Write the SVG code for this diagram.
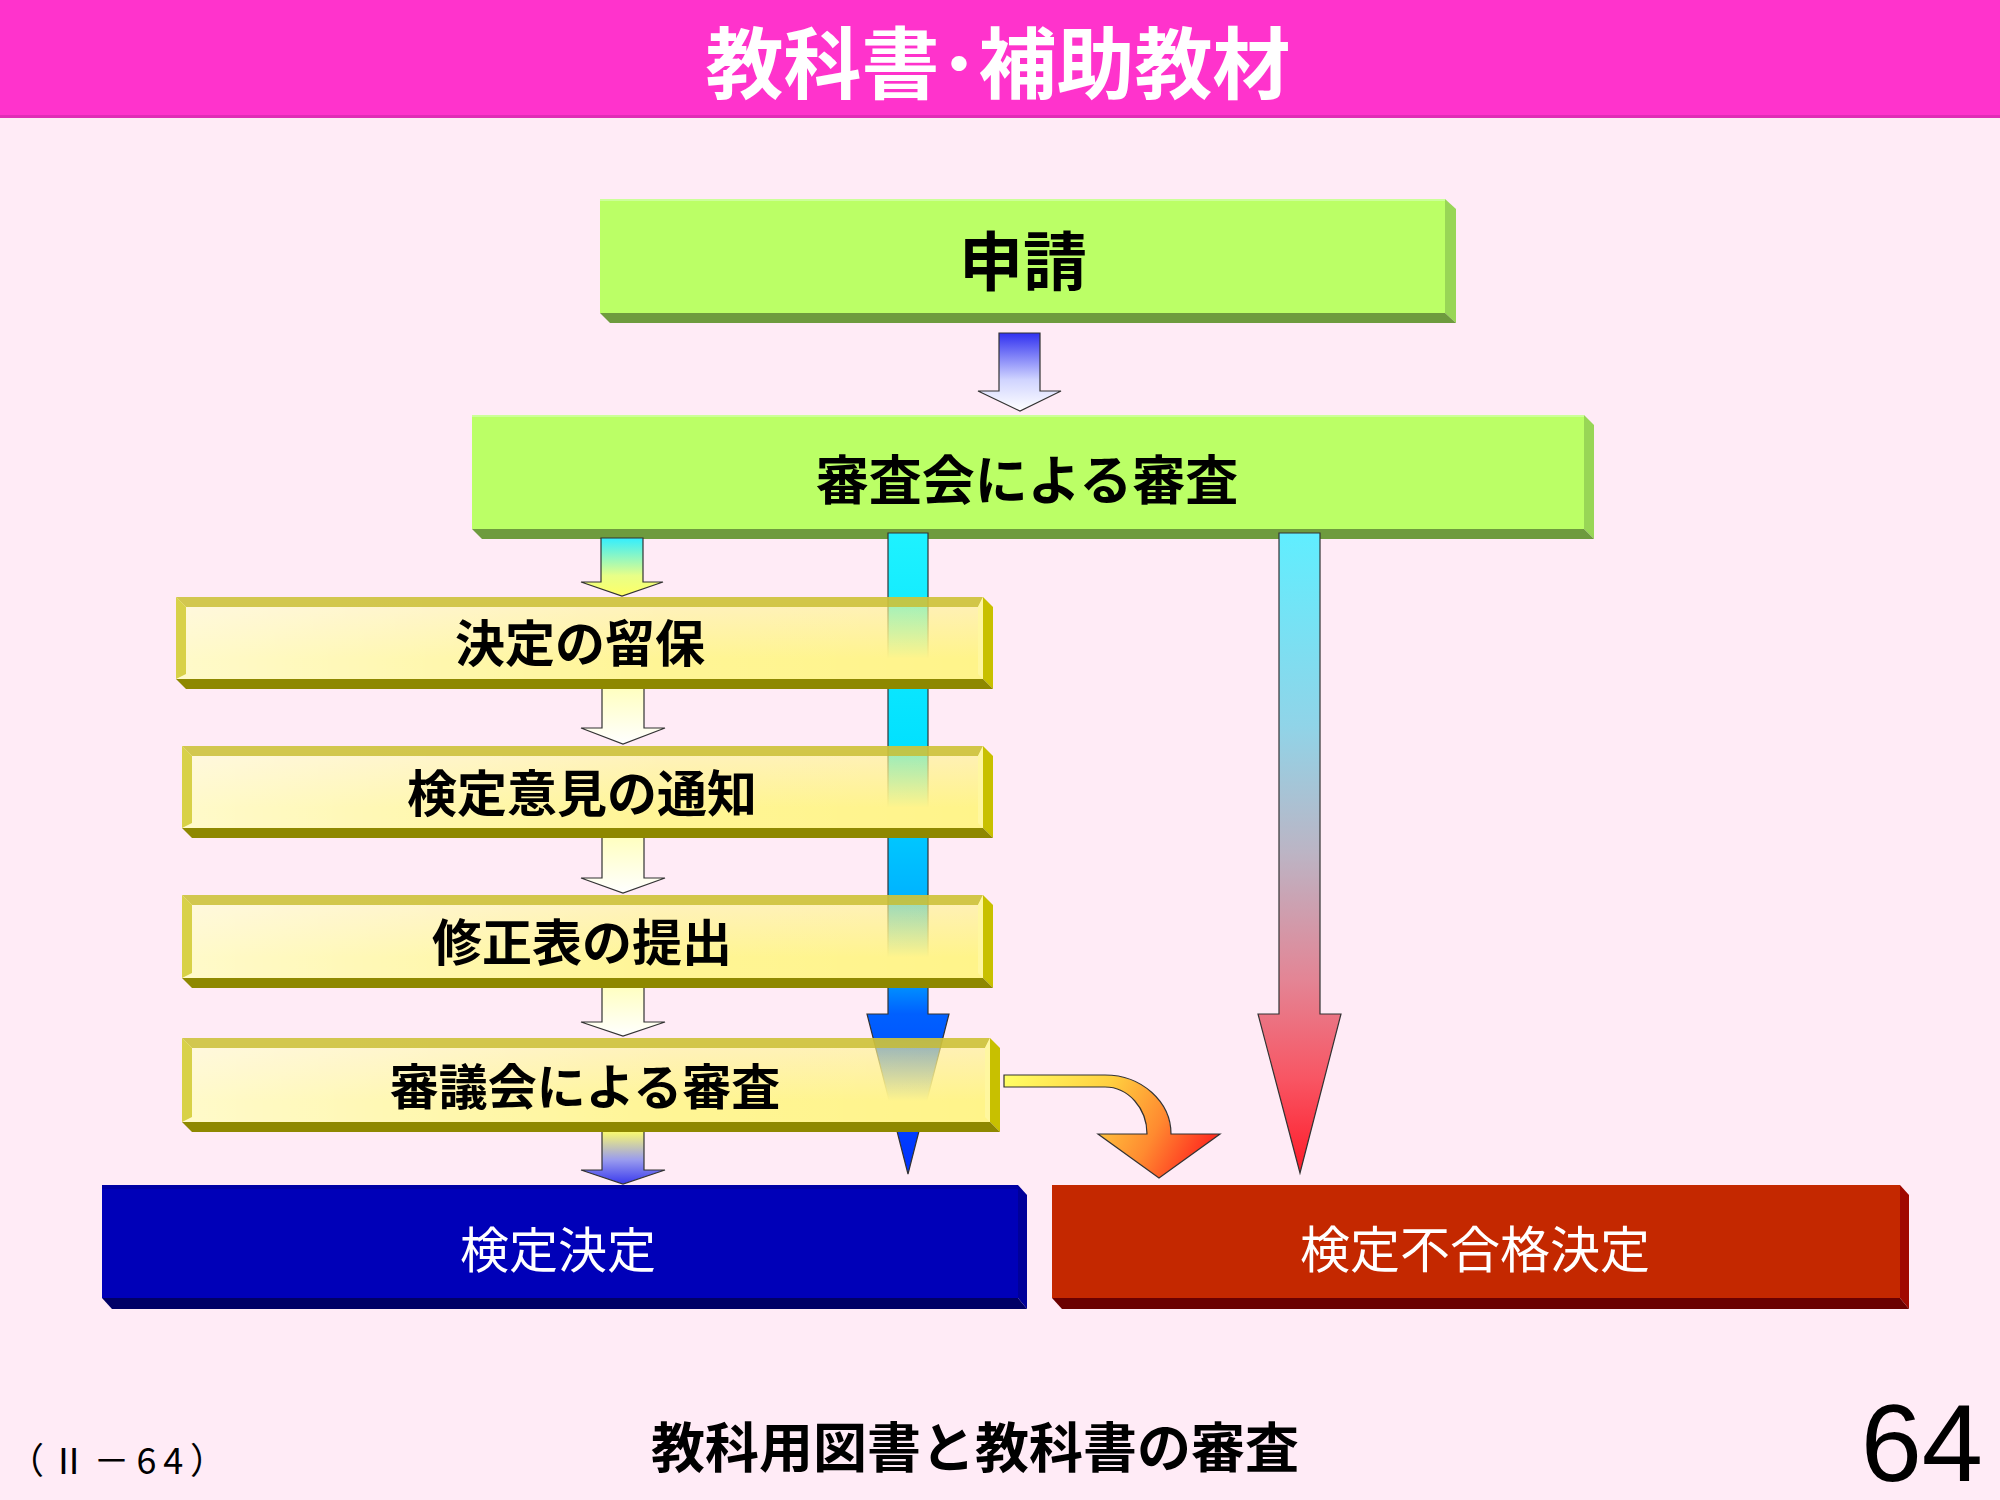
<svg xmlns="http://www.w3.org/2000/svg" width="2000" height="1500" viewBox="0 0 2000 1500">
<style>
.jp{font-family:"Noto Sans CJK JP","Noto Sans CJK SC",sans-serif;}
.lbl{font-weight:700;fill:#000;text-anchor:middle;dominant-baseline:central;}
.wlbl{font-weight:400;fill:#fff;text-anchor:middle;dominant-baseline:central;}
.arr{stroke:#333;stroke-width:1.2;stroke-linejoin:miter;}
.gface{fill:#BBFF66;}
.gright{fill:#98D656;}
.gbot{fill:#6E9B3E;}
.yright{fill:#C8C000;}
.ybot{fill:#8E8800;}
.ytop{fill:#C8BC30;fill-opacity:0.82;}
.yleft{fill:#D4CC38;fill-opacity:0.9;}
.yrin{fill:#FFF7A0;fill-opacity:0.9;}
</style>
<defs>
<linearGradient id="yv" x1="0" y1="0" x2="0" y2="1">
<stop offset="0" stop-color="#FFF48A" stop-opacity="0.55"/>
<stop offset="0.75" stop-color="#FFF48A" stop-opacity="1"/>
<stop offset="1" stop-color="#FFF48A" stop-opacity="1"/>
</linearGradient>
<linearGradient id="yh" x1="0" y1="0" x2="1" y2="0">
<stop offset="0" stop-color="#FFFFFF" stop-opacity="0.55"/>
<stop offset="0.6" stop-color="#FFFFFF" stop-opacity="0.1"/>
<stop offset="1" stop-color="#FFFFFF" stop-opacity="0"/>
</linearGradient>
<linearGradient id="gTop" x1="0" y1="0" x2="0" y2="1">
<stop offset="0" stop-color="#3030F0"/>
<stop offset="0.6" stop-color="#D0D4FF"/>
<stop offset="1" stop-color="#FFFFFF"/>
</linearGradient>
<linearGradient id="gCy" x1="0" y1="0" x2="0" y2="1">
<stop offset="0" stop-color="#33EEFF"/>
<stop offset="0.65" stop-color="#E8FF88"/>
<stop offset="1" stop-color="#FFFF66"/>
</linearGradient>
<linearGradient id="gPale" x1="0" y1="0" x2="0" y2="1">
<stop offset="0" stop-color="#FFFFC0"/>
<stop offset="1" stop-color="#FFFFFF"/>
</linearGradient>
<linearGradient id="gYB" x1="0" y1="0" x2="0" y2="1">
<stop offset="0" stop-color="#FFFF66"/>
<stop offset="0.55" stop-color="#9A9CEE"/>
<stop offset="1" stop-color="#3A3AEE"/>
</linearGradient>
<linearGradient id="gBlue" gradientUnits="userSpaceOnUse" x1="0" y1="533" x2="0" y2="1174">
<stop offset="0" stop-color="#1EF2FF"/>
<stop offset="0.35" stop-color="#00E0FF"/>
<stop offset="0.7" stop-color="#0098FF"/>
<stop offset="0.75" stop-color="#0060FF"/>
<stop offset="1" stop-color="#0030FF"/>
</linearGradient>
<linearGradient id="gRed" gradientUnits="userSpaceOnUse" x1="0" y1="533" x2="0" y2="1174">
<stop offset="0" stop-color="#60EEFF"/>
<stop offset="0.3" stop-color="#90D4E8"/>
<stop offset="0.5" stop-color="#BCB4C4"/>
<stop offset="0.7" stop-color="#E48494"/>
<stop offset="0.85" stop-color="#F85664"/>
<stop offset="1" stop-color="#FF1A28"/>
</linearGradient>
<linearGradient id="gCurve" gradientUnits="userSpaceOnUse" x1="1004" y1="1078" x2="1190" y2="1178">
<stop offset="0" stop-color="#FFFF66"/>
<stop offset="0.45" stop-color="#FFD040"/>
<stop offset="0.75" stop-color="#FF8A30"/>
<stop offset="1" stop-color="#FF3020"/>
</linearGradient>
</defs>

<rect x="0" y="0" width="2000" height="1500" fill="#FFEBF6"/>

<g id="header">
<rect x="0" y="0" width="2000" height="118" fill="#FF33CC"/>
<rect x="0" y="115" width="2000" height="3" fill="#E02DB6"/>
<text class="jp" x="998" y="59" font-size="78" font-weight="700" fill="#FFFFFF" text-anchor="middle" dominant-baseline="central">教科書･補助教材</text>
</g>

<g id="node-shinsei">
<polygon class="gright" points="1445,199 1456,209 1456,323 1445,313"/>
<polygon class="gbot" points="600,313 1445,313 1456,323 610,323"/>
<rect class="gface" x="600" y="199" width="845" height="114"/>
<rect x="600" y="199" width="845" height="2" fill="#CCFF99"/>
<text class="jp lbl" x="1023" y="257" font-size="64">申請</text>
</g>

<g id="node-shinsakai">
<polygon class="gright" points="1584,415 1594,425 1594,539 1584,529"/>
<polygon class="gbot" points="472,529 1584,529 1594,539 482,539"/>
<rect class="gface" x="472" y="415" width="1112" height="114"/>
<rect x="472" y="415" width="1112" height="2" fill="#CCFF99"/>
<text class="jp lbl" x="1027" y="477" font-size="53">審査会による審査</text>
</g>

<g id="connectors">
<path class="arr" fill="url(#gTop)" d="M999,333 H1040 V391 H1061 L1020,411 L978,391 H999 Z"/>
<path class="arr" fill="url(#gCy)" d="M601,538 H643 V582 H663 L622,596 L581,582 H601 Z"/>
<path class="arr" fill="url(#gBlue)" d="M888,533 H928 V1014 H949 L908,1174 L867,1014 H888 Z"/>
<path class="arr" fill="url(#gRed)" d="M1279,533 H1320 V1014 H1341 L1300,1173 L1258,1014 H1279 Z"/>
<path class="arr" fill="url(#gPale)" d="M602,688 H644 V728 H665 L623,744 L581,728 H602 Z"/>
<path class="arr" fill="url(#gPale)" d="M602,837 H644 V878 H665 L623,893 L581,878 H602 Z"/>
<path class="arr" fill="url(#gPale)" d="M602,986 H644 V1022 H665 L623,1036 L581,1022 H602 Z"/>
<path class="arr" fill="url(#gYB)" d="M602,1130 H644 V1170 H665 L623,1184 L581,1170 H602 Z"/>
<path class="arr" fill="url(#gCurve)" d="M1004,1075 H1105 C1142,1075 1171,1102 1171,1134 H1220 L1159,1178 L1098,1134 H1147 C1147,1108 1128,1087 1105,1087 H1004 Z"/>
</g>

<g id="node-ryuho">
<polygon class="yright" points="983,597 993,607 993,689 983,679"/>
<polygon class="ybot" points="176,679 983,679 993,689 186,689"/>
<rect x="176" y="597" width="807" height="82" fill="url(#yv)"/>
<rect x="176" y="597" width="807" height="82" fill="url(#yh)"/>
<polygon class="ytop" points="176,597 983,597 978,607 186,607"/>
<polygon class="yleft" points="176,597 186,607 186,674 176,679"/>
<polygon class="yrin" points="983,597 983,679 978,674 978,607"/>
<text class="jp lbl" x="580" y="640" font-size="50">決定の留保</text>
</g>

<g id="node-tsuchi">
<polygon class="yright" points="983,746 993,756 993,838 983,828"/>
<polygon class="ybot" points="182,828 983,828 993,838 192,838"/>
<rect x="182" y="746" width="801" height="82" fill="url(#yv)"/>
<rect x="182" y="746" width="801" height="82" fill="url(#yh)"/>
<polygon class="ytop" points="182,746 983,746 978,756 192,756"/>
<polygon class="yleft" points="182,746 192,756 192,823 182,828"/>
<polygon class="yrin" points="983,746 983,828 978,823 978,756"/>
<text class="jp lbl" x="582" y="790" font-size="50">検定意見の通知</text>
</g>

<g id="node-teishutsu">
<polygon class="yright" points="983,895 993,905 993,988 983,978"/>
<polygon class="ybot" points="182,978 983,978 993,988 192,988"/>
<rect x="182" y="895" width="801" height="83" fill="url(#yv)"/>
<rect x="182" y="895" width="801" height="83" fill="url(#yh)"/>
<polygon class="ytop" points="182,895 983,895 978,905 192,905"/>
<polygon class="yleft" points="182,895 192,905 192,973 182,978"/>
<polygon class="yrin" points="983,895 983,978 978,973 978,905"/>
<text class="jp lbl" x="582" y="939" font-size="50">修正表の提出</text>
</g>

<g id="node-shingikai">
<polygon class="yright" points="990,1038 1000,1048 1000,1132 990,1122"/>
<polygon class="ybot" points="182,1122 990,1122 1000,1132 192,1132"/>
<rect x="182" y="1038" width="808" height="84" fill="url(#yv)"/>
<rect x="182" y="1038" width="808" height="84" fill="url(#yh)"/>
<polygon class="ytop" points="182,1038 990,1038 985,1048 192,1048"/>
<polygon class="yleft" points="182,1038 192,1048 192,1117 182,1122"/>
<polygon class="yrin" points="990,1038 990,1122 985,1117 985,1048"/>
<text class="jp lbl" x="585" y="1083" font-size="49">審議会による審査</text>
</g>

<g id="node-kettei">
<polygon points="1018,1185 1027,1195 1027,1309 1018,1298" fill="#00009A"/>
<polygon points="102,1298 1018,1298 1027,1309 112,1309" fill="#000066"/>
<rect x="102" y="1185" width="916" height="113" fill="#0000B8"/>
<rect x="102" y="1185" width="916" height="4" fill="#0000A4"/>
<text class="jp wlbl" x="558" y="1246" font-size="49">検定決定</text>
</g>

<g id="node-fugokaku">
<polygon points="1900,1185 1909,1195 1909,1309 1900,1298" fill="#A00800"/>
<polygon points="1052,1298 1900,1298 1909,1309 1062,1309" fill="#6B0000"/>
<rect x="1052" y="1185" width="848" height="113" fill="#C42800"/>
<text class="jp wlbl" x="1475" y="1246" font-size="50">検定不合格決定</text>
</g>

<g id="footer">
<text class="jp" x="8" y="1458" font-size="36" fill="#000" dominant-baseline="central" textLength="218" lengthAdjust="spacing">（Ⅱ－64）</text>
<text class="jp" x="975" y="1444" font-size="54" font-weight="700" fill="#000" text-anchor="middle" dominant-baseline="central">教科用図書と教科書の審査</text>
<text x="1983" y="1481" font-family="'Liberation Sans',Arial,sans-serif" font-size="110" fill="#000" text-anchor="end">64</text>
</g>
</svg>
